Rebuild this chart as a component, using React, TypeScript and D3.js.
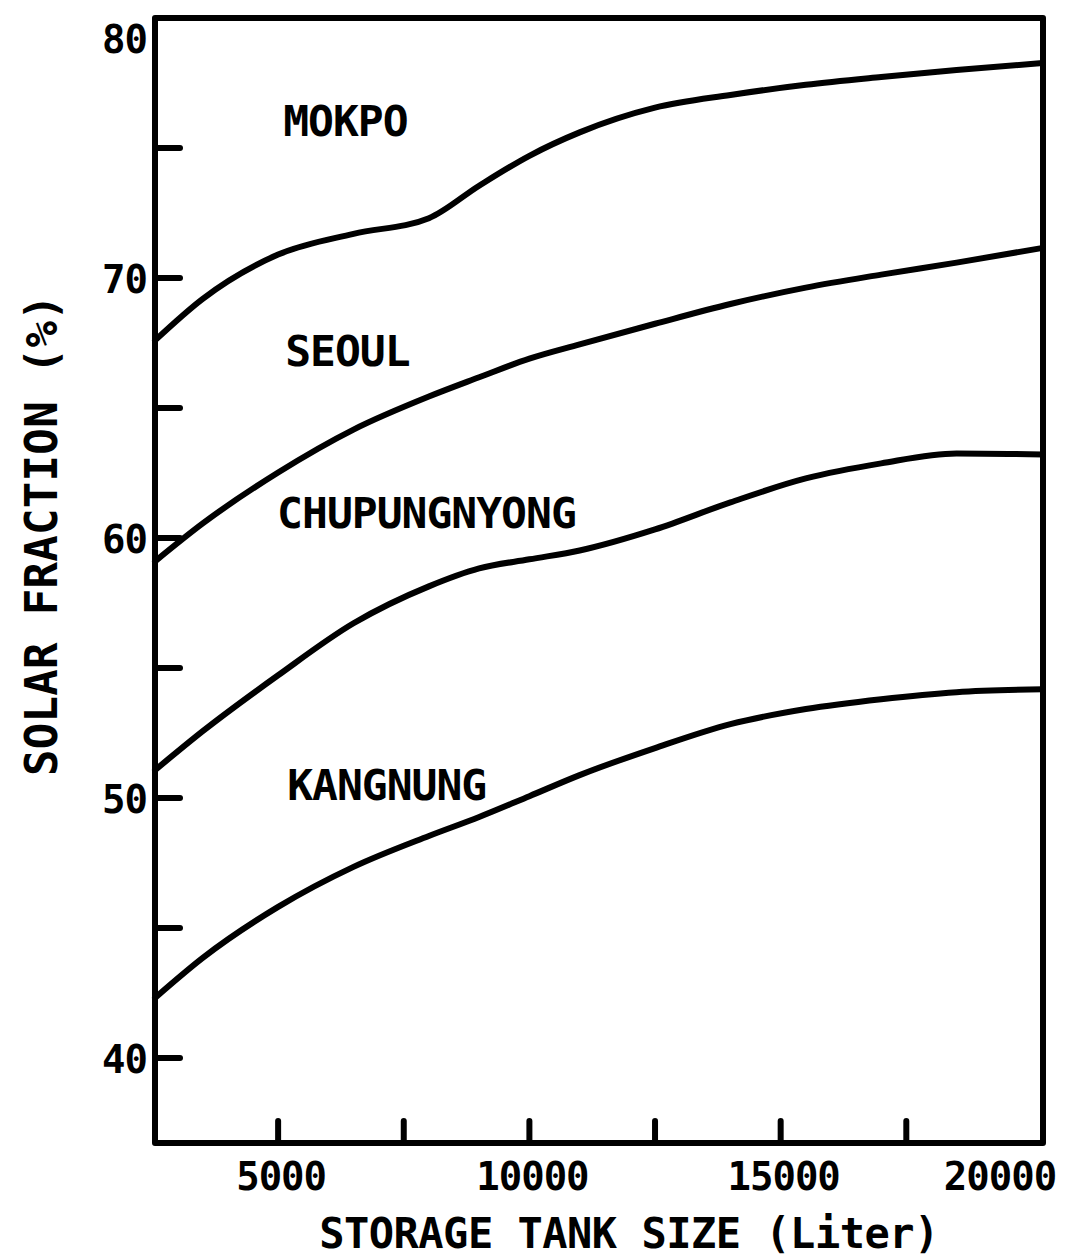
import React from "react";
import * as d3 from "d3";

// Storage tank size (litres) at which each curve is sampled
const tankSize = [2550, 3500, 5000, 6500, 8000, 9000, 10000, 11000, 12500, 14000, 15500, 17000, 18500, 20220];

// Solar fraction (%) per city
const mokpo = [67.6, 69.2, 70.9, 71.7, 72.3, 73.55, 74.7, 75.6, 76.55, 77.04, 77.43, 77.73, 78.0, 78.27];
const seoul = [59.1, 60.56, 62.52, 64.17, 65.44, 66.18, 66.9, 67.45, 68.24, 69.0, 69.63, 70.13, 70.59, 71.16];
const chupungnyong = [51.07, 52.57, 54.72, 56.72, 58.14, 58.83, 59.18, 59.52, 60.33, 61.37, 62.29, 62.87, 63.25, 63.21];
const kangnung = [42.31, 43.85, 45.81, 47.35, 48.54, 49.27, 50.07, 50.88, 51.92, 52.84, 53.42, 53.8, 54.07, 54.18];

const cityNames = ["MOKPO", "SEOUL", "CHUPUNGNYONG", "KANGNUNG"];
const cityValues = [mokpo, seoul, chupungnyong, kangnung];
// where each city name sits, in data units (start x, baseline y)
const cityLabelX = [5100, 5140, 4980, 5180];
const cityLabelY = [75.47, 66.6, 60.4, 49.92];

const yMajorTicks = [40, 50, 60, 70, 80];
const yMinorTicks = [45, 55, 65, 75];
const xTicks = [5000, 7500, 10000, 12500, 15000, 17500];
const xTickLabels = [5000, 10000, 15000, 20000];

const xTitle = "STORAGE TANK SIZE (Liter)";
const yTitle = "SOLAR FRACTION (%)";

const W = 1075;
const H = 1260;
const left = 155, right = 1043, top = 18, bottom = 1143;
const FONT = "'DejaVu Sans Mono', monospace";

export default function App() {
  const x = d3.scaleLinear().domain([2550, 20220]).range([left, right]);
  const y = d3.scaleLinear().domain([36.73, 80]).range([bottom, top]);

  const line = d3
    .line<number>()
    .x((_, i) => x(tankSize[i]))
    .y((v) => y(v))
    .curve(d3.curveMonotoneX);

  const sw = 6;

  return (
    <svg
      width={W}
      height={H}
      style={{ position: "absolute", left: 0, top: 0, background: "#fff" }}
      fontFamily={FONT}
      fontWeight="bold"
    >
      {/* plot frame */}
      <rect
        x={left}
        y={top}
        width={right - left}
        height={bottom - top}
        fill="none"
        stroke="#000"
        strokeWidth={sw}
        strokeLinejoin="round"
      />

      {/* y ticks (inward) */}
      {[...yMajorTicks.filter((t) => t < 80), ...yMinorTicks].map((t) => (
        <line
          key={"yt" + t}
          x1={left}
          x2={left + 25}
          y1={y(t)}
          y2={y(t)}
          stroke="#000"
          strokeWidth={sw}
          strokeLinecap="round"
        />
      ))}
      {yMajorTicks.map((t) => (
        <text
          key={"yl" + t}
          x={left - 8}
          y={y(t) + (t === 80 ? 24 : 5)}
          textAnchor="end"
          dominantBaseline="middle"
          fontSize={39}
          letterSpacing={-1}
        >
          {t}
        </text>
      ))}

      {/* x ticks (inward) */}
      {xTicks.map((t) => (
        <line
          key={"xt" + t}
          x1={x(t)}
          x2={x(t)}
          y1={bottom}
          y2={bottom - 22}
          stroke="#000"
          strokeWidth={sw}
          strokeLinecap="round"
        />
      ))}
      {xTickLabels.map((t) => (
        <text
          key={"xl" + t}
          x={x(t) + (t === 20000 ? -32 : 3)}
          y={bottom + 47}
          textAnchor="middle"
          fontSize={39}
          letterSpacing={-1}
        >
          {t}
        </text>
      ))}

      {/* curves */}
      {cityValues.map((vals, i) => (
        <path
          key={cityNames[i]}
          d={line(vals) || ""}
          fill="none"
          stroke="#000"
          strokeWidth={sw}
          strokeLinecap="round"
          strokeLinejoin="round"
        />
      ))}

      {/* city labels */}
      {cityNames.map((name, i) => (
        <text
          key={"lab" + name}
          x={x(cityLabelX[i])}
          y={y(cityLabelY[i])}
          fontSize={43}
          letterSpacing={-1}
        >
          {name}
        </text>
      ))}

      {/* axis titles */}
      <text x={629} y={1248} textAnchor="middle" fontSize={42} letterSpacing={-0.5}>
        {xTitle}
      </text>
      <text
        transform={`translate(57, 535) rotate(-90)`}
        textAnchor="middle"
        fontSize={44}
        letterSpacing={0.3}
      >
        {yTitle}
      </text>
    </svg>
  );
}
